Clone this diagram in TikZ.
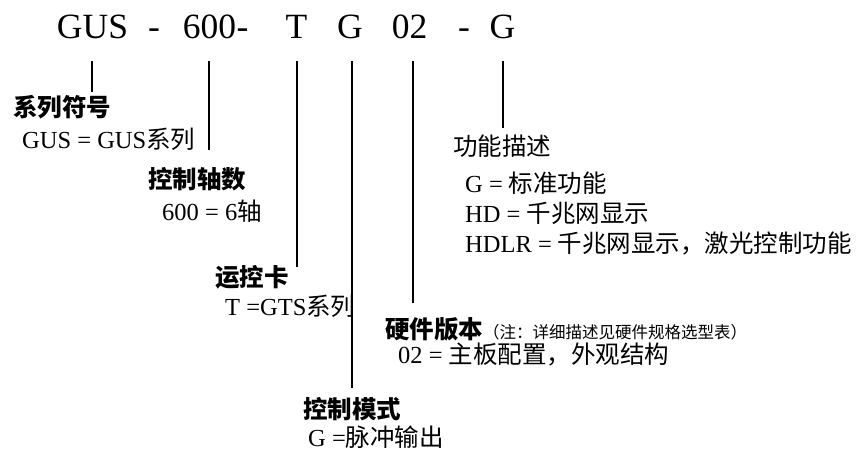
\documentclass[tikz,border=0pt]{standalone}
\usepackage{fontspec}
\setmainfont{Liberation Serif}
\newfontfamily\cjk{Noto Sans CJK SC}
\begin{document}
\begin{tikzpicture}[x=1pt, y=-1pt,
  part/.style={anchor=base, inner sep=0pt, font=\fontsize{35.5}{40}\selectfont},
  head/.style={anchor=base west, inner sep=0pt, font=\cjk\bfseries\fontsize{24.5}{29}\selectfont},
  val/.style={anchor=base west, inner sep=0pt, font=\fontsize{24.5}{29}\selectfont},
  lead/.style={line width=1.2pt, shorten <=22pt}]
\useasboundingbox (0,0) rectangle (861,452);
% model code
\node[part] (t1) at (92.5,39) {GUS};
\node[part] (d1) at (154,39) {-};
\node[part] (t2) at (209.5,39) {600};
\node[part, anchor=base west] (d2) at (t2.base east) {-};
\node[part] (t3) at (296.5,39) {T};
\node[part] (t4) at (350,39) {G};
\node[part] (t5) at (409.5,39) {02};
\node[part] (d3) at (464,39) {-};
\node[part] (t6) at (502.5,39) {G};
% headings
\node[head] (h1) at (13,116) {系列符号};
\node[head] (h2) at (148,188) {控制轴数};
\node[head] (h3) at (215,286) {运控卡};
\node[head] (h4) at (303,418) {控制模式};
\node[head] (h5) at (385,338) {硬件版本{\mdseries\fontsize{16.5}{20}\selectfont （注：详细描述见硬件规格选型表）}};
\node[head, font=\cjk\fontsize{24.5}{29}\selectfont] (h6) at (453,155) {功能描述};
% values
\node[val] (v1) at (22,148) {GUS = GUS{\cjk 系列}};
\node[val] (v2) at (162,220) {600 = 6{\cjk 轴}};
\node[val] (v3) at (225,315) {T =GTS{\cjk 系列}};
\node[val] (v4) at (308,446) {G ={\cjk 脉冲输出}};
\node[val] (v5) at (398,363) {02 = {\cjk 主板配置，外观结构}};
\node[val] (v6) at (465,192) {G = {\cjk 标准功能}};
\node[val] (v7) at (465,222) {HD = {\cjk 千兆网显示}};
\node[val] (v8) at (465,252) {HDLR = {\cjk 千兆网显示，激光控制功能}};
% leader lines
\coordinate (e1) at (92,92);
\coordinate (e2) at (209,150);
\coordinate (e3) at (297,267);
\coordinate (e4) at (352,388);
\coordinate (e5) at (413,303);
\coordinate (e6) at (503,128);
\draw[lead] (t1.base -| e1) -- (e1);
\draw[lead] (t2.base -| e2) -- (e2);
\draw[lead] (t3.base -| e3) -- (e3);
\draw[lead] (t4.base -| e4) -- (e4);
\draw[lead] (t5.base -| e5) -- (e5);
\draw[lead] (t6.base -| e6) -- (e6);
\end{tikzpicture}
\end{document}
